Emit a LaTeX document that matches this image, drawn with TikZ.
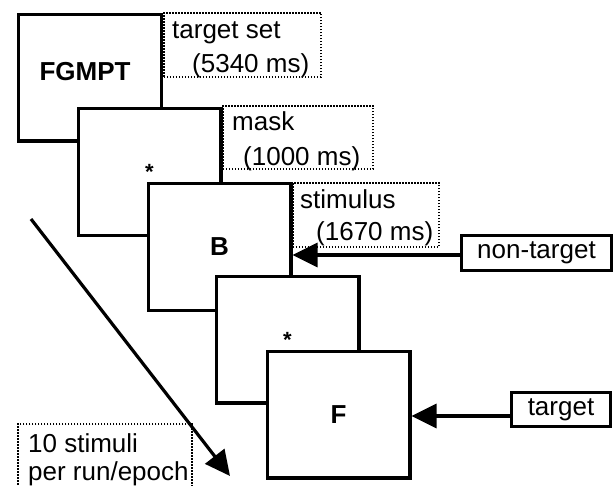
\documentclass[tikz,border=0pt]{standalone}
\usepackage{fontspec}
\setmainfont{Liberation Sans}
\usetikzlibrary{arrows.meta}
\begin{document}
\begin{tikzpicture}[x=1pt,y=-1pt,
  scr/.style={draw=black, line width=3.3pt, fill=white, minimum width=142.7pt, minimum height=126.7pt, inner sep=0pt},
  dotbox/.style={draw=black, line width=1.7pt, dash pattern=on 1.6pt off 1.4pt, inner sep=0pt},
  tagbox/.style={draw=black, line width=3.3pt, fill=white, inner sep=0pt, font=\fontsize{26}{30}\selectfont},
  lbl/.style={font=\fontsize{26}{34}\selectfont, inner sep=0pt, anchor=base west},
  bigtxt/.style={font=\fontsize{26}{30}\selectfont\bfseries},
  startxt/.style={font=\fontsize{22}{26}\selectfont\bfseries},
  arr/.style={line width=3.2pt, -{Triangle[length=25pt,width=24pt]}}
]
\useasboundingbox (0,0) rectangle (616,485);
\clip (0,0) rectangle (616,485);

% screens
\node[scr, label={[bigtxt, xshift=-5pt, yshift=5.5pt]center:FGMPT}] (s1) at (90,77.5) {};
\node[dotbox, minimum width=157.3pt, minimum height=64.3pt] (f1) at (242.5,45) {};
\node[lbl] (t1a) at (172,38) {target set};
\node[lbl] (t1b) at (192,72) {(5340 ms)};

\node[scr, label={[startxt]center:*}] (s2) at (149.5,172) {};
\node[dotbox, minimum width=150.3pt, minimum height=63.3pt] (f2) at (298,137.5) {};
\node[lbl] (t2a) at (232,130) {mask};
\node[lbl] (t2b) at (243,165) {(1000 ms)};

\node[scr, label={[bigtxt]center:B}] (s3) at (219.5,247) {};
\node[dotbox, minimum width=146.3pt, minimum height=64.3pt] (f3) at (366,215) {};
\node[lbl] (t3a) at (300,208) {stimulus};
\node[lbl] (t3b) at (316,240) {(1670 ms)};

\node[scr, label={[startxt]center:*}] (s4) at (287.5,339.5) {};
\node[scr, label={[bigtxt]center:F}] (s5) at (338.5,414.5) {};

% tags
\node[tagbox, minimum width=149.7pt, minimum height=34.7pt] (nt) at (536.5,253) {non-target};
\node[tagbox, minimum width=98.7pt, minimum height=33.7pt] (tg) at (561,409.5) {target};

\draw[arr] (nt.west |- 0,255) -- (s3.east |- 0,255);
\draw[arr] (tg.west |- 0,416) -- (s5.east |- 0,416);

% sequence arrow
\coordinate (a0) at (31,219);
\coordinate (a1) at (230,476);
\node[dotbox, minimum width=174.3pt, minimum height=90pt, anchor=north west] (f4) at (16.8,422.8) {};
\node[lbl] (t4a) at (28,452) {10 stimuli};
\node[lbl] (t4b) at (28,480) {per run/epoch};
\draw[arr] (a0) -- (a1);
\end{tikzpicture}
\end{document}
